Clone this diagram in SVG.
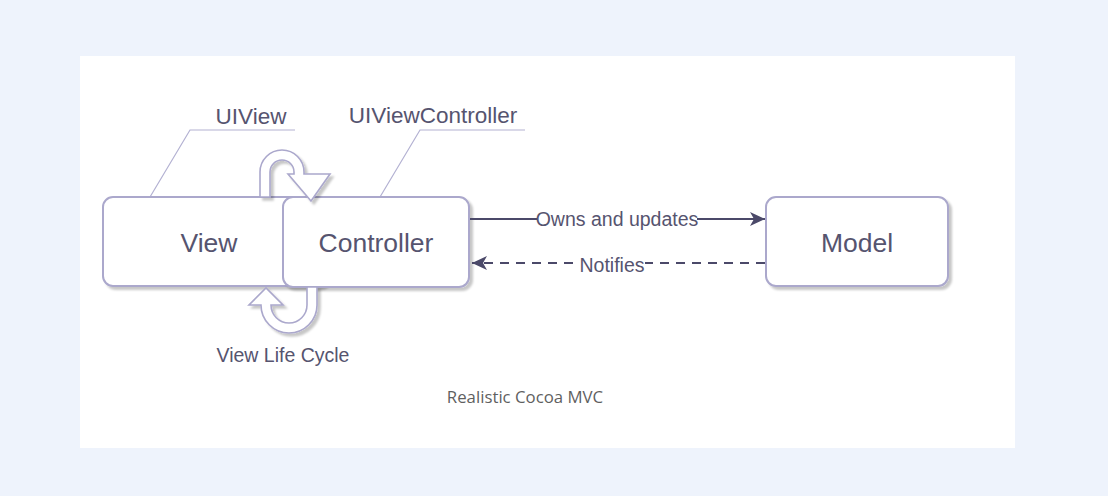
<svg xmlns="http://www.w3.org/2000/svg" width="1108" height="496" viewBox="0 0 1108 496">
<defs>
<filter id="sh" x="-10%" y="-10%" width="130%" height="140%">
<feDropShadow dx="3" dy="3" stdDeviation="1" flood-color="#000" flood-opacity="0.22"/>
</filter>
<marker id="arr" markerWidth="16" markerHeight="14" refX="15" refY="7" orient="auto" markerUnits="userSpaceOnUse">
<path d="M0,0 L15,7 L0,14 L4,7 Z" fill="#4b4969"/>
</marker>
<style>
.box{fill:#ffffff;stroke:#aba8cc;stroke-width:2;filter:url(#sh)}
.loop{fill:#ffffff;stroke:#aba8cc;stroke-width:1.6;filter:url(#sh)}
.t{font-family:"Liberation Sans",Arial,sans-serif;fill:#56546f;text-anchor:middle}
.big{font-size:26.5px}
.call{font-size:22.5px}
.lab{font-size:19.5px}
.cl{fill:none;stroke:#b3b1d2;stroke-width:1.2}
.edge{fill:none;stroke:#4b4969;stroke-width:2}
</style>
</defs>
<rect x="0" y="0" width="1108" height="496" fill="#eef3fc"/>
<rect x="80" y="56" width="935" height="392" fill="#ffffff"/>

<g id="callout-uiview">
<path class="cl" d="M150,197 L190,130 L295,130"/>
<text class="t call" x="251" y="124">UIView</text>
</g>
<g id="callout-uiviewcontroller">
<path class="cl" d="M380,197 L420,130 L525,130"/>
<text class="t call" x="433" y="123">UIViewController</text>
</g>

<g id="view">
<rect class="box" x="103" y="197" width="225" height="89" rx="10"/>
<text class="t big" x="209" y="252">View</text>
</g>
<g id="controller">
<rect class="box" x="283" y="197" width="186" height="90" rx="10"/>
<text class="t big" x="376" y="252">Controller</text>
</g>
<g id="model">
<rect class="box" x="766" y="197" width="182" height="89" rx="10"/>
<text class="t big" x="857" y="252">Model</text>
</g>

<g id="view-life-cycle">
<path class="loop" d="M260,197 L260,172 A22,22 0 0 1 304,172 L304,174 L330,174 L311,201 L288,174 L294,174 L294,172 A12,12 0 0 0 270,172 L270,197 Z"/>
<path class="loop" d="M317,287 L317,305 A28,28 0 0 1 261,305 L249,305 L266,288 L283,305 L271,305 A18,18 0 0 0 307,305 L307,287 Z"/>
<text class="t lab" x="283" y="362">View Life Cycle</text>
</g>

<g id="connectors">
<line class="edge" x1="470" y1="219" x2="765" y2="219" marker-end="url(#arr)"/>
<rect x="537" y="209" width="160" height="20" fill="#ffffff"/>
<text class="t lab" x="617" y="226">Owns and updates</text>
<line class="edge" x1="765" y1="263" x2="472" y2="263" stroke-dasharray="9 7" marker-end="url(#arr)"/>
<rect x="580" y="253" width="65" height="20" fill="#ffffff"/>
<text class="t lab" x="612" y="272">Notifies</text>
</g>

<text x="525" y="403" font-family="'Open Sans','Noto Sans',sans-serif" font-size="16.8" fill="#5f5f5f" text-anchor="middle">Realistic Cocoa MVC</text>
</svg>
